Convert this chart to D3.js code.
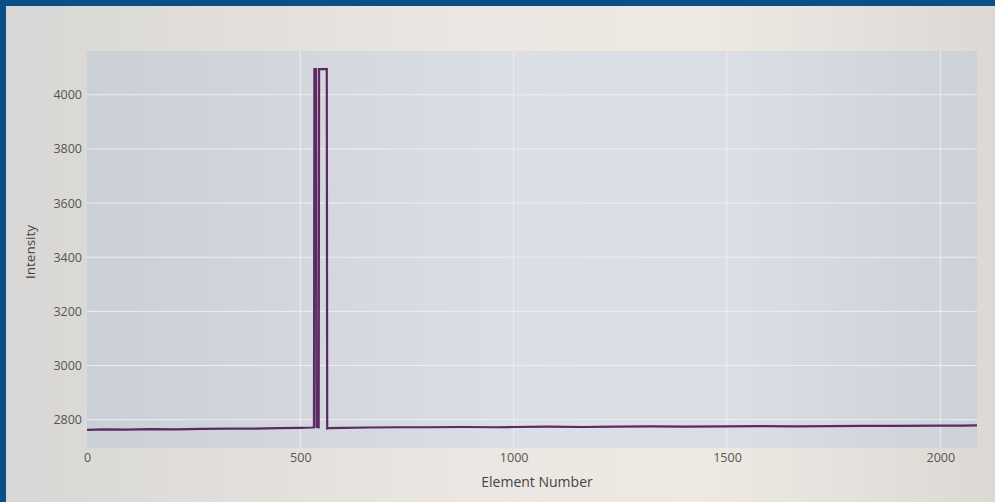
<!DOCTYPE html>
<html>
<head>
<meta charset="utf-8">
<script src="https://cdn.jsdelivr.net/npm/d3@7"></script>
<style>
  html, body { margin:0; padding:0; background:#0b4f87; }
  svg { display:block; }
</style>
</head>
<body>
<svg id="view_chart" width="995" height="502"></svg>
<script>
// values (sensor readout, 12 bit saturates at 4095)
var elements  = [0, 40, 90, 150, 210, 270, 330, 390, 450, 500, 528, 532, 533, 537, 538, 543, 544, 562, 563, 567, 600, 660, 730, 800, 880, 960, 1000, 1080, 1160, 1240, 1320, 1400, 1500, 1580, 1660, 1740, 1820, 1900, 2000, 2050, 2086];
var intensity = [2762, 2764, 2763, 2765, 2764, 2766, 2767, 2767, 2769, 2770, 2771, 2772, 4095, 4095, 2773, 2772, 4095, 4095, 2767, 2769, 2770, 2771, 2772, 2772, 2773, 2772, 2773, 2774, 2773, 2774, 2775, 2774, 2775, 2776, 2775, 2776, 2777, 2777, 2778, 2778, 2779];
var xTicks = [0, 500, 1000, 1500, 2000];
var yTicks = [2800, 3000, 3200, 3400, 3600, 3800, 4000];

var svg = d3.select("#view_chart");
var W = 995, H = 502;
var plot = {left: 87, right: 977, top: 51, bottom: 448};

var defs = svg.append("defs");

var paperGrad = defs.append("linearGradient").attr("id", "paperGrad");
paperGrad.append("stop").attr("offset", "0%").attr("stop-color", "#d8d7d5");
paperGrad.append("stop").attr("offset", "45%").attr("stop-color", "#ebe6e1");
paperGrad.append("stop").attr("offset", "70%").attr("stop-color", "#eee9e3");
paperGrad.append("stop").attr("offset", "100%").attr("stop-color", "#dcd9d5");

var plotGrad = defs.append("linearGradient").attr("id", "plotGrad");
plotGrad.append("stop").attr("offset", "0%").attr("stop-color", "#cbcfd6");
plotGrad.append("stop").attr("offset", "50%").attr("stop-color", "#dcdfe5");
plotGrad.append("stop").attr("offset", "75%").attr("stop-color", "#dadde3");
plotGrad.append("stop").attr("offset", "100%").attr("stop-color", "#cdd1d8");

// blue screen edge + page
svg.append("rect").attr("width", W).attr("height", H).attr("fill", "#0b4f87");
svg.append("rect")
  .attr("x", 6).attr("y", 6)
  .attr("width", W - 6).attr("height", H - 6)
  .attr("fill", "url(#paperGrad)");

svg.append("rect")
  .attr("x", plot.left).attr("y", plot.top)
  .attr("width", plot.right - plot.left).attr("height", plot.bottom - plot.top)
  .attr("fill", "url(#plotGrad)");

var x = d3.scaleLinear()
  .domain([0, d3.max(elements)])
  .range([plot.left, plot.right]);

// plotly style autorange: 5% padding each side
var yMin = d3.min(intensity), yMax = d3.max(intensity), pad = (yMax - yMin) * 0.05;
var y = d3.scaleLinear()
  .domain([yMin - pad, yMax + pad])
  .range([plot.bottom, plot.top]);

// grid
var grid = svg.append("g").attr("class", "grid");
grid.selectAll(".gx")
  .data(xTicks.filter(function(d){ return d > 0; }))
  .enter().append("line")
  .attr("x1", function(d){ return x(d); }).attr("x2", function(d){ return x(d); })
  .attr("y1", plot.top).attr("y2", plot.bottom)
  .attr("stroke", "#eceef1").attr("stroke-width", 1);
grid.selectAll(".gy")
  .data(yTicks)
  .enter().append("line")
  .attr("x1", plot.left).attr("x2", plot.right)
  .attr("y1", function(d){ return y(d); }).attr("y2", function(d){ return y(d); })
  .attr("stroke", "#eceef1").attr("stroke-width", 1);

// axes (labels only, like plotly)
var xAxis = svg.append("g")
  .attr("transform", "translate(0," + plot.bottom + ")")
  .call(d3.axisBottom(x).tickValues(xTicks).tickFormat(d3.format("d")).tickSize(0).tickPadding(5));
var yAxis = svg.append("g")
  .attr("transform", "translate(" + (plot.left - 3) + ",0)")
  .call(d3.axisLeft(y).tickValues(yTicks).tickFormat(d3.format("d")).tickSize(0).tickPadding(2));

[xAxis, yAxis].forEach(function(a){
  a.select(".domain").remove();
  a.selectAll("text")
    .attr("fill", "#555")
    .style("font-family", "'Open Sans', sans-serif")
    .style("font-size", "12.5px");
});

// series
var line = d3.line()
  .x(function(d, i){ return x(elements[i]); })
  .y(function(d){ return y(d); });

svg.append("path")
  .datum(intensity)
  .attr("d", line)
  .attr("fill", "none")
  .attr("stroke", "#5a2a60")
  .attr("stroke-width", 2.2)
  .attr("stroke-linejoin", "miter");

// axis titles
svg.append("text")
  .attr("x", 537)
  .attr("y", 487)
  .attr("text-anchor", "middle")
  .attr("fill", "#444")
  .style("font-family", "'Open Sans', sans-serif")
  .style("font-size", "14px")
  .text("Element Number");

svg.append("text")
  .attr("transform", "translate(35,252) rotate(-90)")
  .attr("text-anchor", "middle")
  .attr("fill", "#444")
  .style("font-family", "'Open Sans', sans-serif")
  .style("font-size", "13.5px")
  .text("Intensity");
</script>
</body>
</html>
